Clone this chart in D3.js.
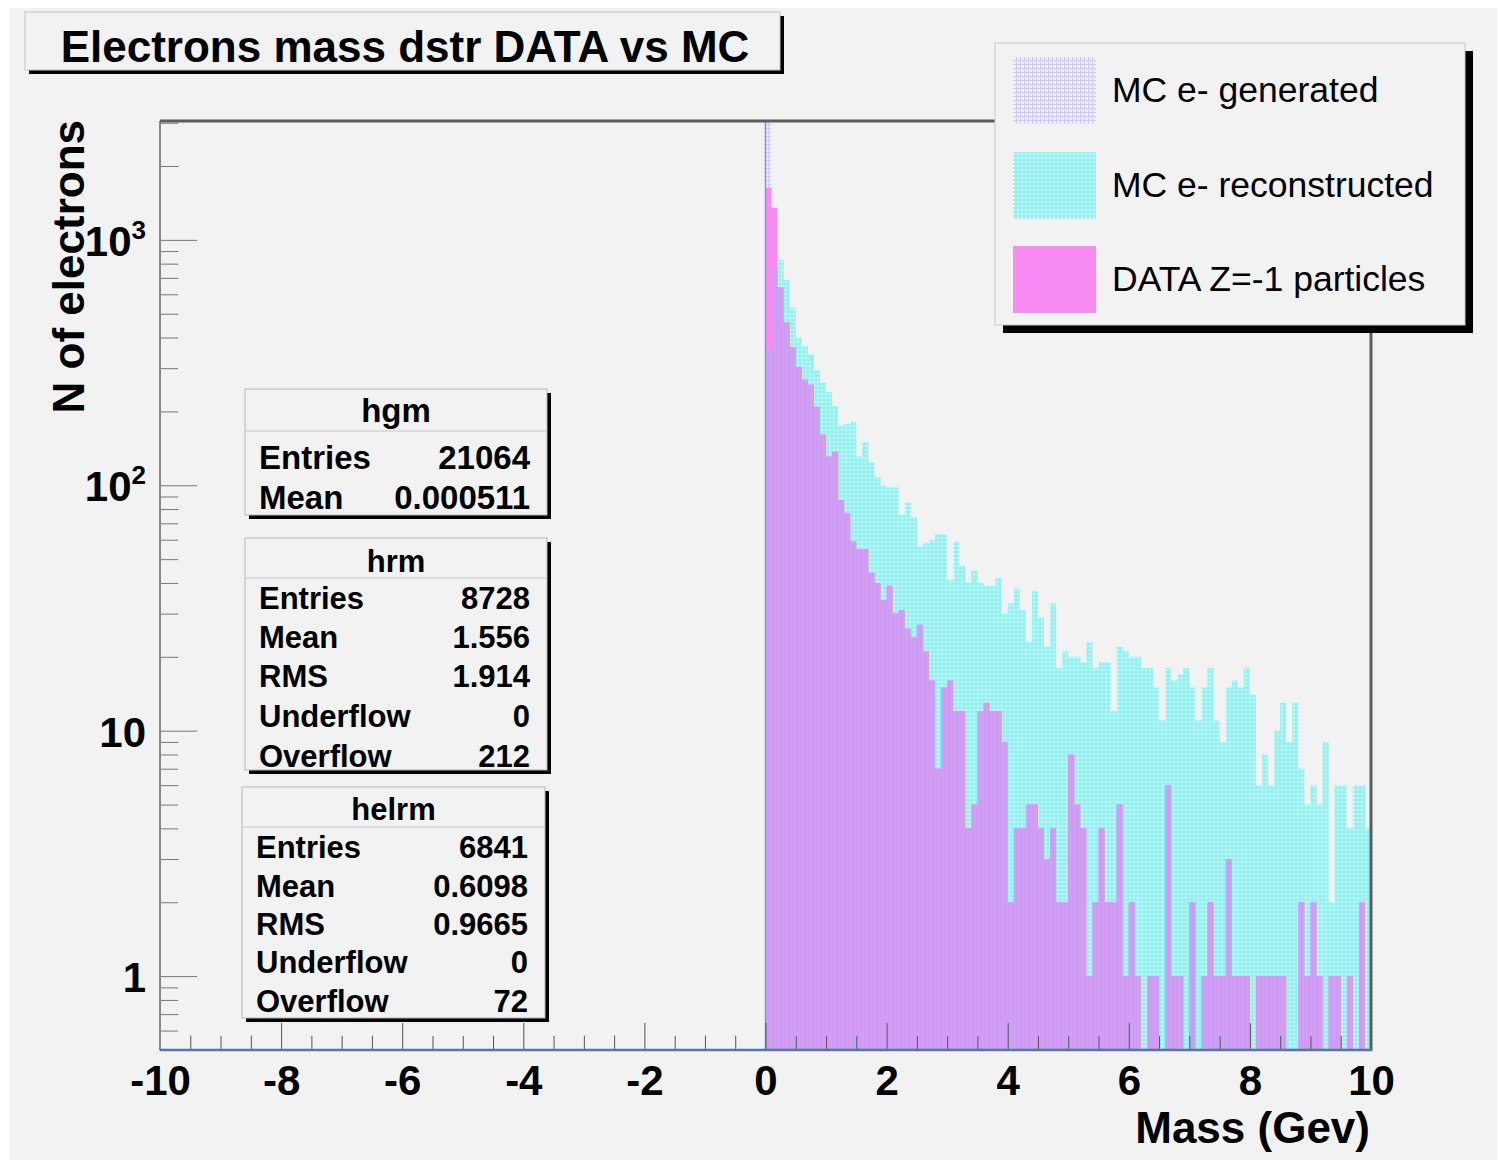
<!DOCTYPE html>
<html>
<head>
<meta charset="utf-8">
<script src="https://cdn.jsdelivr.net/npm/d3@7"></script>
<style>
  body { margin: 0; background: #fff; }
  text { font-family: "Liberation Sans", Arial, Helvetica, sans-serif; }
</style>
</head>
<body>
<div class="chart"></div>
<script>
// histograms: 0.1 GeV bins starting at 0
var binWidth = 0.1;
var generated = [21064];
var reconstructed = [
  356, 769, 829, 687, 528, 400, 370, 340, 295, 262,
  240, 210, 175, 178, 182, 131, 150, 124, 108, 100,
  98, 98, 76, 85, 74, 56, 58, 60, 63, 63,
  41, 59, 47, 40, 45, 40, 39, 39, 42, 30,
  33, 38, 31, 23, 37, 29, 22, 33, 18, 21,
  20, 20, 19, 23, 18, 19, 19, 12, 22, 21,
  20, 20, 18, 18, 15, 11, 18, 16, 17, 18,
  15, 11, 15, 18, 11, 9, 15, 16, 15, 18,
  14, 6, 8, 6, 10, 13, 9, 13, 7, 5,
  6, 5, 9, 2, 6, 6, 4, 6, 6, 4
];
var dataZm1 = [
  1630, 1350, 640, 460, 366, 304, 269, 257, 209, 161,
  131, 137, 87, 77, 59, 55, 55, 44, 40, 34,
  39, 30, 31, 26, 24, 27, 21, 16, 7, 15,
  16, 12, 12, 4, 5, 12, 13, 12, 12, 9,
  2, 4, 4, 5, 5, 4, 3, 4, 2, 2,
  8, 5, 4, 1, 2, 4, 2, 2, 5, 1,
  2, 1, 0, 1, 1, 0, 6, 1, 1, 0,
  2, 0, 1, 2, 1, 1, 3, 1, 1, 1,
  0, 1, 1, 1, 1, 1, 0, 0, 2, 1,
  2, 1, 0, 1, 1, 0, 1, 0, 2, 0
];

var xTickValues = [-10, -8, -6, -4, -2, 0, 2, 4, 6, 8, 10];
var xTickLabels = ['-10', '-8', '-6', '-4', '-2', '0', '2', '4', '6', '8', '10'];
var yMajorValues = [1, 10, 100, 1000];
var yTickLabels = [['1', ''], ['10', ''], ['10', '2'], ['10', '3']];
var legendLabels = ['MC e- generated', 'MC e- reconstructed', 'DATA Z=-1 particles'];

var statTitles = ['hgm', 'hrm', 'helrm'];
var statRows = [
  [['Entries', '21064'], ['Mean', '0.000511']],
  [['Entries', '8728'], ['Mean', '1.556'], ['RMS', '1.914'], ['Underflow', '0'], ['Overflow', '212']],
  [['Entries', '6841'], ['Mean', '0.6098'], ['RMS', '0.9665'], ['Underflow', '0'], ['Overflow', '72']]
];

// layout
var frame = { left: 160, top: 121, right: 1371, bottom: 1050 };
var statBoxes = [
  { x: 245, y: 389, w: 302, h: 126, titleY: 422, sepY: 431, rowY: [469, 509], fs: 33 },
  { x: 245, y: 538, w: 302, h: 232, titleY: 572, sepY: 578, rowY: [609, 648, 687, 727, 767], fs: 31 },
  { x: 242, y: 787, w: 303, h: 231, titleY: 820, sepY: 827, rowY: [858, 897, 935, 973, 1012], fs: 31 }
];

var svg = d3.select('.chart')
  .append('svg')
  .attr('width', 1499)
  .attr('height', 1162);

svg.append('rect').attr('width', 1499).attr('height', 1162).attr('fill', '#fff');
svg.append('rect').attr('x', 10).attr('y', 8).attr('width', 1487).attr('height', 1152).attr('fill', '#f2f2f2');

var defs = svg.append('defs');

// cyan dotted fill (reconstructed)
var p = defs.append('pattern').attr('id', 'recoPat').attr('patternUnits', 'userSpaceOnUse')
  .attr('width', 4).attr('height', 4);
p.append('rect').attr('width', 4).attr('height', 4).attr('fill', 'rgb(140,245,245)');
p.append('rect').attr('x', 1).attr('y', 1).attr('width', 2).attr('height', 2).attr('fill', 'rgb(225,252,252)');

// overlap of magenta and cyan pattern
p = defs.append('pattern').attr('id', 'mixPat').attr('patternUnits', 'userSpaceOnUse')
  .attr('width', 4).attr('height', 4);
p.append('rect').attr('width', 4).attr('height', 4).attr('fill', 'rgb(234,142,240)');
p.append('rect').attr('x', 2).attr('width', 2).attr('height', 4).attr('fill', 'rgb(176,174,250)');
p.append('rect').attr('x', 2).attr('y', 1).attr('width', 2).attr('height', 1).attr('fill', 'rgb(198,166,248)');

// lavender dotted fill (generated)
p = defs.append('pattern').attr('id', 'genPat').attr('patternUnits', 'userSpaceOnUse')
  .attr('width', 4).attr('height', 4);
p.append('rect').attr('width', 4).attr('height', 4).attr('fill', 'rgb(240,236,252)');
p.append('rect').attr('width', 4).attr('height', 1).attr('fill', 'rgb(210,200,246)');
p.append('rect').attr('width', 1).attr('height', 4).attr('fill', 'rgb(210,200,246)');

defs.append('clipPath').attr('id', 'frameClip')
  .append('rect')
  .attr('x', frame.left).attr('y', frame.top)
  .attr('width', frame.right - frame.left).attr('height', frame.bottom - frame.top);

var xScale = d3.scaleLinear().domain([-10, 10]).range([frame.left, frame.right]);
var yScale = d3.scaleLog().domain([0.5, 3050]).range([frame.bottom, frame.top]).clamp(true);

function toSteps(values) {
  var pts = values.map((v, i) => ({ x: i * binWidth, v: v }));
  pts.push({ x: values.length * binWidth, v: values[values.length - 1] });
  return pts;
}

var area = d3.area()
  .curve(d3.curveStepAfter)
  .x(d => xScale(d.x))
  .y0(frame.bottom)
  .y1(d => d.v > 0 ? yScale(d.v) : frame.bottom);

var overlap = reconstructed.map((v, i) => Math.min(v, dataZm1[i]));

var hist = svg.append('g').attr('clip-path', 'url(#frameClip)');
hist.append('path').attr('d', area(toSteps(generated))).attr('fill', 'url(#genPat)');
hist.append('path').attr('d', area(toSteps(reconstructed))).attr('fill', 'url(#recoPat)');
hist.append('path').attr('d', area(toSteps(dataZm1))).attr('fill', '#f98bf5');
hist.append('path').attr('d', area(toSteps(overlap))).attr('fill', 'url(#mixPat)');
hist.append('line')
  .attr('x1', xScale(0)).attr('x2', xScale(0))
  .attr('y1', frame.top).attr('y2', frame.bottom)
  .style('stroke', '#8d8de0').style('stroke-width', 1.5);

// axes ticks (ROOT style, pointing inward)
var xMinor = d3.range(-10, 10.001, 0.5).filter(v => xTickValues.indexOf(v) < 0);
var gx = svg.append('g').attr('transform', `translate(0, ${frame.bottom})`);
gx.call(d3.axisBottom(xScale).tickValues(xMinor).tickSizeInner(-14).tickSizeOuter(0).tickFormat(''));
gx.append('g').call(d3.axisBottom(xScale)
  .tickValues(xTickValues)
  .tickFormat((d, i) => xTickLabels[i])
  .tickSizeInner(-27).tickSizeOuter(0).tickPadding(15));
gx.selectAll('.domain').remove();
gx.selectAll('line').style('stroke', '#555').style('stroke-width', 1);
gx.selectAll('text')
  .style('font-family', '"Liberation Sans", Arial, sans-serif')
  .style('font-size', '42px')
  .style('font-weight', 'bold')
  .style('fill', '#000');

var yMinor = [0.6, 0.7, 0.8, 0.9, 2, 3, 4, 5, 6, 7, 8, 9, 20, 30, 40, 50, 60, 70, 80, 90,
  200, 300, 400, 500, 600, 700, 800, 900, 2000, 3000];
var gy = svg.append('g').attr('transform', `translate(${frame.left}, 0)`);
gy.call(d3.axisLeft(yScale).tickValues(yMinor).tickSizeInner(-18).tickSizeOuter(0).tickFormat(''));
gy.append('g').call(d3.axisLeft(yScale).tickValues(yMajorValues).tickSizeInner(-37).tickSizeOuter(0).tickFormat(''));
gy.selectAll('.domain').remove();
gy.selectAll('line').style('stroke', '#777').style('stroke-width', 1);

var ylab = svg.append('g')
  .selectAll('text')
  .data(yMajorValues)
  .enter()
  .append('text')
  .attr('x', frame.left - 14)
  .attr('y', d => yScale(d) + 16)
  .style('text-anchor', 'end')
  .style('font-size', '42px')
  .style('font-weight', 'bold');
ylab.append('tspan').text((d, i) => yTickLabels[i][0]);
ylab.append('tspan')
  .attr('dy', -17)
  .style('font-size', '26px')
  .text((d, i) => yTickLabels[i][1]);

// frame
svg.append('line').attr('x1', frame.left).attr('x2', frame.left).attr('y1', frame.top).attr('y2', frame.bottom)
  .style('stroke', '#888').style('stroke-width', 2);
svg.append('line').attr('x1', frame.left).attr('x2', frame.right).attr('y1', frame.top).attr('y2', frame.top)
  .style('stroke', '#5c5c5c').style('stroke-width', 3);
svg.append('line').attr('x1', frame.right).attr('x2', frame.right).attr('y1', frame.top).attr('y2', frame.bottom)
  .style('stroke', '#5c5c5c').style('stroke-width', 3);
svg.append('line').attr('x1', frame.left).attr('x2', frame.right + 1).attr('y1', frame.bottom).attr('y2', frame.bottom)
  .style('stroke', '#5a76a8').style('stroke-width', 2.5);

// axis titles
svg.append('text')
  .attr('transform', 'translate(84,120) rotate(-90)')
  .style('text-anchor', 'end')
  .style('font-size', '44px')
  .style('font-weight', 'bold')
  .text('N of electrons');

svg.append('text')
  .attr('x', 1370).attr('y', 1143)
  .style('text-anchor', 'end')
  .style('font-size', '44px')
  .style('font-weight', 'bold')
  .text('Mass (Gev)');

// title box
svg.append('rect').attr('x', 29).attr('y', 16).attr('width', 755).attr('height', 58).attr('fill', '#000');
svg.append('rect').attr('x', 25).attr('y', 12).attr('width', 755).attr('height', 58)
  .attr('fill', '#f2f2f2').style('stroke', '#c4c4c4').style('stroke-width', 1);
svg.append('text')
  .attr('x', 405).attr('y', 62)
  .style('text-anchor', 'middle')
  .style('font-size', '44px')
  .style('font-weight', 'bold')
  .text('Electrons mass dstr DATA vs MC');

// stat boxes
statBoxes.forEach((b, k) => {
  var g = svg.append('g');
  g.append('rect').attr('x', b.x + 4).attr('y', b.y + 4).attr('width', b.w).attr('height', b.h).attr('fill', '#000');
  g.append('rect').attr('x', b.x).attr('y', b.y).attr('width', b.w).attr('height', b.h)
    .attr('fill', '#f2f2f2').style('stroke', '#b5b5b5').style('stroke-width', 1);
  g.append('line').attr('x1', b.x).attr('x2', b.x + b.w).attr('y1', b.sepY).attr('y2', b.sepY)
    .style('stroke', '#c8c8c8').style('stroke-width', 1);
  g.append('text')
    .attr('x', b.x + b.w / 2).attr('y', b.titleY)
    .style('text-anchor', 'middle')
    .style('font-size', b.fs + 'px')
    .style('font-weight', 'bold')
    .text(statTitles[k]);
  statRows[k].forEach((r, j) => {
    g.append('text').attr('x', b.x + 14).attr('y', b.rowY[j])
      .style('font-size', b.fs + 'px').style('font-weight', 'bold').text(r[0]);
    g.append('text').attr('x', b.x + b.w - 17).attr('y', b.rowY[j])
      .style('text-anchor', 'end')
      .style('font-size', b.fs + 'px').style('font-weight', 'bold').text(r[1]);
  });
});

// legend
var legendFills = ['url(#genPat)', 'url(#recoPat)', '#f98bf5'];
svg.append('rect').attr('x', 1003).attr('y', 51).attr('width', 470).attr('height', 282).attr('fill', '#000');
svg.append('rect').attr('x', 995).attr('y', 43).attr('width', 470).attr('height', 282)
  .attr('fill', '#f2f2f2').style('stroke', '#c8c8c8').style('stroke-width', 1);
var swatchY = [57, 152, 246];
var leg = svg.append('g').selectAll('g').data(legendLabels).enter().append('g');
leg.append('rect')
  .attr('x', 1013).attr('y', (d, i) => swatchY[i])
  .attr('width', 83).attr('height', 67)
  .attr('fill', (d, i) => legendFills[i]);
leg.append('text')
  .attr('x', 1112).attr('y', (d, i) => swatchY[i] + 45)
  .style('font-size', '35.5px')
  .text(d => d);
</script>
</body>
</html>
